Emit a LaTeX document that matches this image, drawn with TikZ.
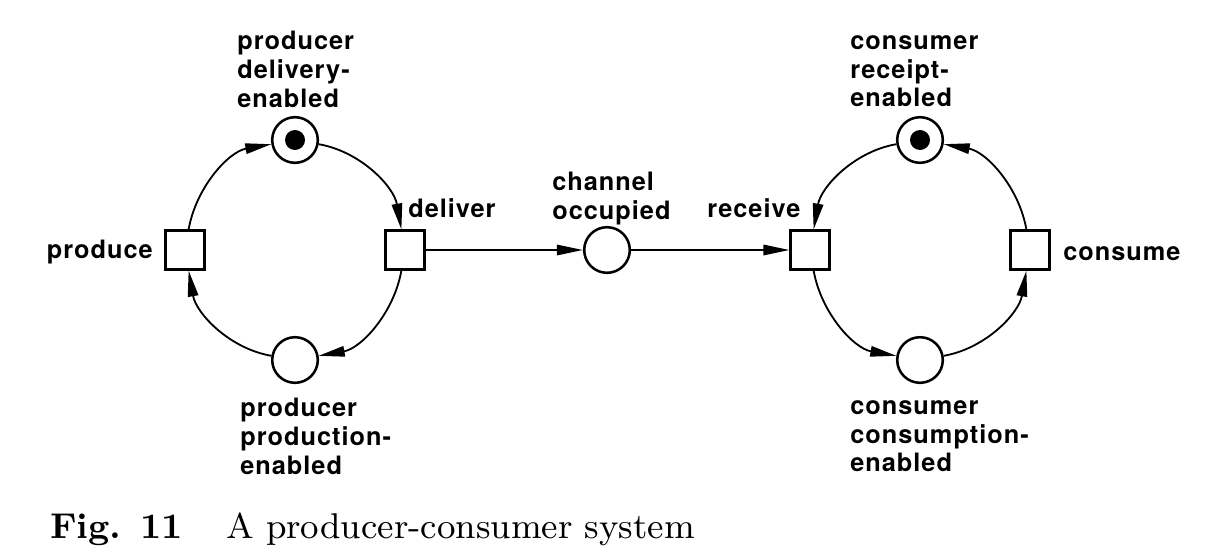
\documentclass[tikz,border=0pt]{standalone}
\usepackage{fontspec}
\newfontfamily\lblfont[LetterSpace=4]{TeX Gyre Heros}
\newfontfamily\capfont{lmroman9-regular.otf}[Scale=2.55, BoldFont=lmroman9-bold.otf]
\usetikzlibrary{arrows.meta}
\begin{document}
\begin{tikzpicture}[x=0.025cm, y=0.025cm,
    place/.style={draw, circle, line width=1.8pt, minimum size=1.14cm, inner sep=0pt},
    trans/.style={draw, rectangle, line width=1.9pt, minimum size=0.96cm, inner sep=0pt},
    lbl/.style={font=\lblfont\bfseries\fontsize{18}{20.5}\selectfont, inner sep=0pt, align=left},
    captext/.style={font=\capfont, inner sep=0pt},
    arc/.style={line width=1.3pt, looseness=0.93, -{Triangle[length=6.5mm, width=2.6mm]}}]
    \useasboundingbox (0,0) rectangle (1221,555);
    % producer
    \node[trans] (produce) at (185,305) {};
    \node[trans] (deliver) at (405,305) {};
    \node[place] (pdeliv) at (295,415) {};
    \node[place] (pprod) at (295,195) {};
    \fill (pdeliv) circle (2.5mm);
    \draw[arc] (produce) to[out=80, in=190] (pdeliv);
    \draw[arc] (pdeliv) to[out=-10, in=100] (deliver);
    \draw[arc] (deliver) to[out=-100, in=10] (pprod);
    \draw[arc] (pprod) to[out=170, in=-80] (produce);
    % channel
    \node[place] (chan) at (607,305) {};
    % consumer
    \node[trans] (receive) at (810,305) {};
    \node[trans] (consume) at (1030,305) {};
    \node[place] (crecpt) at (920,415) {};
    \node[place] (ccons) at (920,195) {};
    \fill (crecpt) circle (2.5mm);
    \draw[arc] (receive) to[out=-80, in=170] (ccons);
    \draw[arc] (ccons) to[out=10, in=-100] (consume);
    \draw[arc] (consume) to[out=100, in=-10] (crecpt);
    \draw[arc] (crecpt) to[out=190, in=80] (receive);
    \draw[arc] (deliver) -- (chan);
    \draw[arc] (chan) -- (receive);
    % labels
    \node[lbl, anchor=base east] (producel) at (153,297) {produce};
    \node[lbl, anchor=base west] (deliverl) at (408,338) {deliver};
    \node[lbl, anchor=north west] (pdelivl) at (237,524) {producer\\delivery-\\enabled};
    \node[lbl, anchor=north west] (pprodl) at (240,157) {producer\\production-\\enabled};
    \node[lbl, anchor=north west] (chanl) at (552,383) {channel\\occupied};
    \node[lbl, anchor=base west] (receivel) at (707,338) {receive};
    \node[lbl, anchor=base west] (consumel) at (1063,295) {consume};
    \node[lbl, anchor=north west] (crecptl) at (850,520) {consumer\\receipt-\\enabled};
    \node[lbl, anchor=north west] (cconsl) at (850,155) {consumer\\consumption-\\enabled};
    % caption
    \node[captext, anchor=base west] (caption) at (50,17)
        {\textbf{Fig. 11}\hspace{1.2em}A producer-consumer system};
\end{tikzpicture}
\end{document}
